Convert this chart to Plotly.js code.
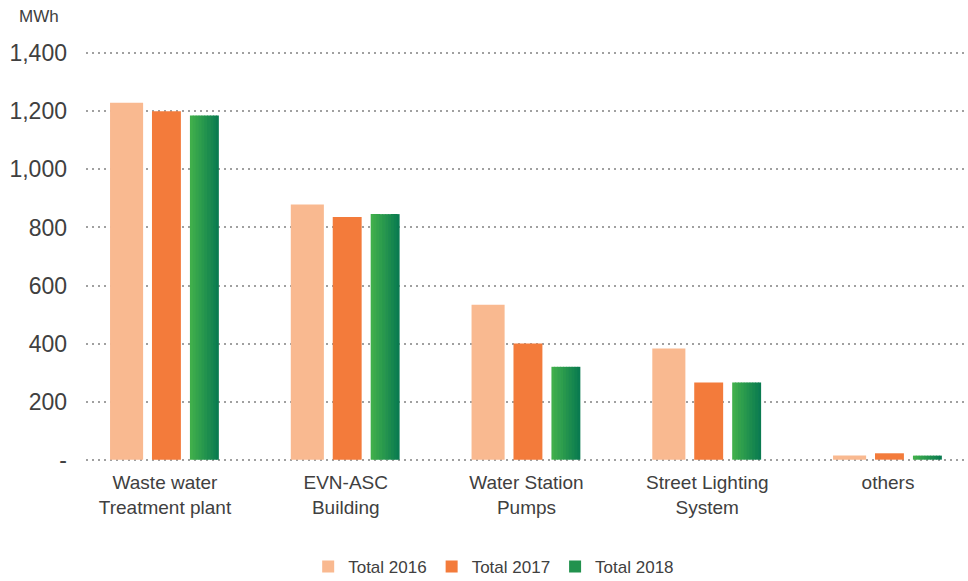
<!DOCTYPE html>
<html>
<head>
<meta charset="utf-8">
<script src="https://cdn.plot.ly/plotly-3.0.1.min.js"></script>
<style>html,body{margin:0;padding:0;background:#fff;}#chart{width:968px;height:581px;}</style>
</head>
<body>
<div id="chart"></div>
<script>
const categories = ['Waste water<br>Treatment plant', 'EVN-ASC<br>Building', 'Water Station<br>Pumps', 'Street Lighting<br>System', 'others'];
const total2016 = [1230, 879, 534, 383, 14];
const total2017 = [1200, 836, 400, 266, 22];
const total2018 = [1186, 846, 320, 266, 14];
const yTickVals = [0, 200, 400, 600, 800, 1000, 1200, 1400];
const yTickText = ['-', '200', '400', '600', '800', '1,000', '1,200', '1,400'];
const seriesNames = ['Total 2016', 'Total 2017', 'Total 2018'];

const xIdx = categories.map((_, i) => i);
const traces = [
  {type: 'bar', x: xIdx, y: total2016, name: seriesNames[0], offset: -0.304, width: 0.183,
   marker: {color: '#F9B990', line: {width: 0}}, hoverinfo: 'y'},
  {type: 'bar', x: xIdx, y: total2017, name: seriesNames[1], offset: -0.072, width: 0.160,
   marker: {color: '#F37B3B', line: {width: 0}}, hoverinfo: 'y'}
];
// 2018 bars drawn as vertical slices to mimic the left-to-right green gradient
const gStart = [64, 175, 75], gEnd = [10, 123, 80];
const nSlices = 10, sliceW = 0.160 / nSlices;
for (let s = 0; s < nSlices; s++) {
  const t = s / (nSlices - 1);
  const c = gStart.map((v, k) => Math.round(v + (gEnd[k] - v) * t));
  traces.push({type: 'bar', x: xIdx, y: total2018, name: seriesNames[2],
    offset: 0.138 + s * sliceW, width: sliceW + (s < nSlices - 1 ? 0.004 : 0),
    marker: {color: 'rgb(' + c.join(',') + ')', line: {width: 0}},
    showlegend: s === Math.floor(nSlices / 2), hoverinfo: 'y'});
}

const layout = {
  width: 968, height: 581,
  margin: {l: 86, r: 3, t: 51, b: 119, autoexpand: false},
  paper_bgcolor: '#fff', plot_bgcolor: '#fff',
  barmode: 'overlay',
  font: {family: '"Liberation Sans", Arial, sans-serif', color: '#404040'},
  xaxis: {
    range: [-0.437, 4.426], tickvals: xIdx, ticktext: categories, automargin: false,
    showgrid: false, zeroline: false, showline: false, ticks: '',
    tickfont: {size: 19, color: '#404040'}, ticklabelstandoff: 7, fixedrange: true
  },
  yaxis: {
    range: [-8, 1408], tickvals: yTickVals, ticktext: yTickText, automargin: false,
    showgrid: true, gridcolor: '#a0a0a0', gridwidth: 2, griddash: '2px,4px',
    zeroline: false, showline: false, ticks: '',
    tickfont: {size: 23, color: '#404040'}, ticklabelstandoff: 18, fixedrange: true
  },
  legend: {orientation: 'h', xref: 'container', yref: 'container', x: 0.51, xanchor: 'center',
    y: 0.024, yanchor: 'middle', font: {size: 17, color: '#404040'}, traceorder: 'normal'},
  annotations: [{text: 'MWh', xref: 'paper', yref: 'paper', x: -0.078, xanchor: 'left',
    y: 1.083, yanchor: 'middle', showarrow: false, font: {size: 17, color: '#404040'}}]
};

Plotly.newPlot('chart', traces, layout, {displayModeBar: false, staticPlot: true});
</script>
</body>
</html>
